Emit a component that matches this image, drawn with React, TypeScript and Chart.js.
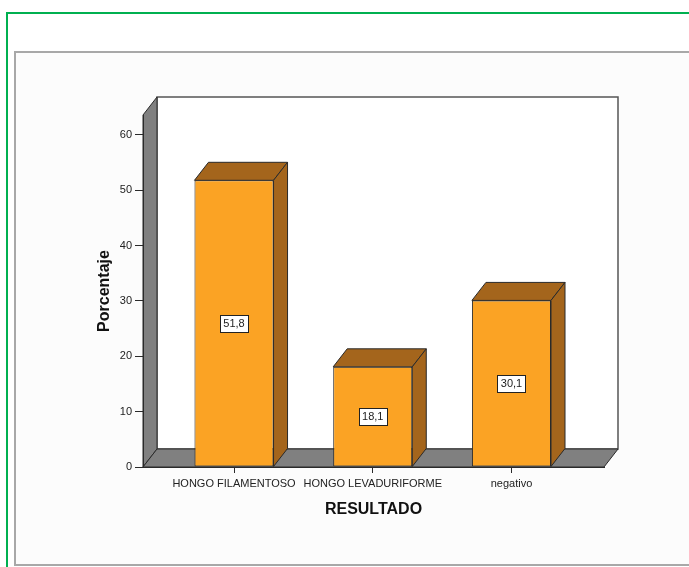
import { useEffect, useRef } from 'react';
import { Chart, registerables } from 'chart.js';

Chart.register(...registerables);

const categories = ['HONGO FILAMENTOSO', 'HONGO LEVADURIFORME', 'negativo'];
const percentages = [51.8, 18.1, 30.1];
const yTicks = [0, 10, 20, 30, 40, 50, 60];
const yMax = 63.6;
const xMin = -0.656;
const xMax = 2.667;
const xTitle = 'RESULTADO';
const yTitle = 'Porcentaje';

const DX = 14;
const DY = 18;
const FONT = "'Liberation Sans', Arial, sans-serif";
const FRONT = '#fba324';
const SHADE = '#a4651c';
const WALL = '#808080';
const EDGE = '#2a2a2a';

function poly(ctx: CanvasRenderingContext2D, pts: number[][], fill: string, stroke: string, lw = 1) {
  ctx.beginPath();
  ctx.moveTo(pts[0][0], pts[0][1]);
  for (let i = 1; i < pts.length; i++) ctx.lineTo(pts[i][0], pts[i][1]);
  ctx.closePath();
  ctx.fillStyle = fill;
  ctx.fill();
  ctx.strokeStyle = stroke;
  ctx.lineWidth = lw;
  ctx.stroke();
}

const frame3d = {
  id: 'frame3d',
  beforeDraw(chart: any) {
    const { ctx, chartArea: a, width, height } = chart;
    ctx.save();
    ctx.fillStyle = '#ffffff';
    ctx.fillRect(0, 0, width, height);
    // green outer frame
    ctx.fillStyle = '#00b050';
    ctx.fillRect(6, 12, width - 6, 2);
    ctx.fillRect(6, 12, 2, height - 12);
    // gray inner box
    ctx.fillStyle = '#fcfcfc';
    ctx.fillRect(14, 51, width - 14, 515);
    ctx.strokeStyle = '#a8a8a8';
    ctx.lineWidth = 2;
    ctx.beginPath();
    ctx.moveTo(width + 2, 52);
    ctx.lineTo(15, 52);
    ctx.lineTo(15, 565);
    ctx.lineTo(width + 2, 565);
    ctx.stroke();

    const L = a.left, R = a.right, T = a.top, B = a.bottom;
    // back wall
    ctx.fillStyle = '#ffffff';
    ctx.fillRect(L + DX, T - DY, R - L, B - T);
    ctx.strokeStyle = '#555';
    ctx.lineWidth = 1.5;
    ctx.strokeRect(L + DX, T - DY, R - L, B - T);
    // left wall
    poly(ctx, [[L, T], [L + DX, T - DY], [L + DX, B - DY], [L, B]], WALL, EDGE);
    // floor
    poly(ctx, [[L, B], [L + DX, B - DY], [R + DX, B - DY], [R, B]], WALL, EDGE);
    ctx.restore();
  },
  afterDatasetsDraw(chart: any) {
    const { ctx } = chart;
    const meta = chart.getDatasetMeta(0);
    ctx.save();
    meta.data.forEach((bar: any, i: number) => {
      const { x, y, base, width } = bar.getProps(['x', 'y', 'base', 'width'], true);
      const x1 = x - width / 2;
      const x2 = x + width / 2;
      poly(ctx, [[x1, y], [x1 + DX, y - DY], [x2 + DX, y - DY], [x2, y]], SHADE, EDGE);
      poly(ctx, [[x2, y], [x2 + DX, y - DY], [x2 + DX, base - DY], [x2, base]], SHADE, EDGE);
      // value label
      const txt = percentages[i].toFixed(1).replace('.', ',');
      ctx.font = `11px ${FONT}`;
      const tw = ctx.measureText(txt).width;
      const bw = Math.round(tw + 7);
      const bh = 17;
      const cy = (y + base) / 2;
      const bx = Math.round(x - bw / 2) + 0.5;
      const by = Math.round(cy - bh / 2) + 0.5;
      ctx.fillStyle = '#ffffff';
      ctx.fillRect(bx, by, bw, bh);
      ctx.strokeStyle = '#222';
      ctx.lineWidth = 1;
      ctx.strokeRect(bx, by, bw, bh);
      ctx.fillStyle = '#222';
      ctx.textAlign = 'center';
      ctx.textBaseline = 'middle';
      ctx.fillText(txt, x, cy + 0.5);
    });
    ctx.restore();
  },
};

export default function App() {
  const ref = useRef<HTMLCanvasElement>(null);
  useEffect(() => {
    if (!ref.current) return;
    const chart = new Chart(ref.current, {
      type: 'bar',
      data: {
        datasets: [
          {
            data: percentages.map((v, i) => ({ x: i, y: v })),
            backgroundColor: FRONT,
            borderColor: EDGE,
            borderWidth: 1,
            borderSkipped: false,
            barPercentage: 0.57,
            categoryPercentage: 1,
          },
        ],
      },
      options: {
        animation: false,
        responsive: false,
        maintainAspectRatio: false,
        layout: { padding: { left: 95, right: 85, top: 115, bottom: 48 } },
        plugins: { legend: { display: false }, tooltip: { enabled: false } },
        scales: {
          x: {
            type: 'linear',
            min: xMin,
            max: xMax,
            offset: false,
            afterBuildTicks: (s: any) => {
              s.ticks = categories.map((_, i) => ({ value: i }));
            },
            afterFit: (s: any) => {
              s.height = 52;
            },
            ticks: {
              callback: (v: any) => categories[v] ?? '',
              autoSkip: false,
              maxRotation: 0,
              minRotation: 0,
              padding: 4,
              color: '#222',
              font: { family: FONT, size: 11 },
            },
            grid: { drawOnChartArea: false, drawTicks: true, tickLength: 6, color: EDGE, offset: false },
            border: { display: true, color: EDGE, width: 1 },
            title: {
              display: true,
              text: xTitle,
              color: '#111',
              padding: 0,
              font: { family: FONT, size: 16, weight: 'bold' },
            },
          },
          y: {
            type: 'linear',
            min: 0,
            max: yMax,
            afterBuildTicks: (s: any) => {
              s.ticks = yTicks.map((v) => ({ value: v }));
            },
            afterFit: (s: any) => {
              s.width = 48;
            },
            ticks: { padding: 3, color: '#222', font: { family: FONT, size: 11 } },
            grid: { drawOnChartArea: false, drawTicks: true, tickLength: 8, color: EDGE },
            border: { display: true, color: EDGE, width: 1 },
            title: {
              display: true,
              text: yTitle,
              color: '#111',
              padding: 0,
              font: { family: FONT, size: 16, weight: 'bold' },
            },
          },
        },
      } as any,
      plugins: [frame3d],
    });
    return () => chart.destroy();
  }, []);
  return (
    <div style={{ position: 'fixed', left: 0, top: 0, width: 689, height: 567 }}>
      <canvas ref={ref} width={689} height={567} style={{ display: 'block' }} />
    </div>
  );
}
